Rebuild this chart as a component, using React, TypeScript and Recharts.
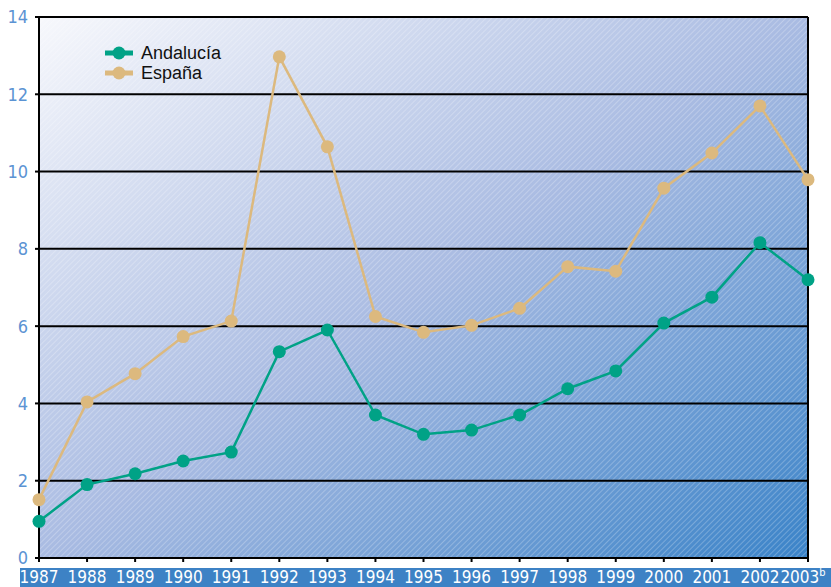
import React from "react";
import { LineChart, Line, XAxis, YAxis, CartesianGrid, Legend, ReferenceLine } from "recharts";

// Values
const years = ["1987", "1988", "1989", "1990", "1991", "1992", "1993", "1994", "1995", "1996", "1997", "1998", "1999", "2000", "2001", "2002", "2003"];
const andalucia = [0.95, 1.9, 2.18, 2.51, 2.74, 5.34, 5.9, 3.7, 3.2, 3.31, 3.7, 4.38, 4.84, 6.08, 6.75, 8.16, 7.2];
const espana = [1.51, 4.04, 4.77, 5.73, 6.13, 12.97, 10.64, 6.25, 5.84, 6.02, 6.46, 7.54, 7.42, 9.57, 10.48, 11.7, 9.79];
const yTicks = [0, 2, 4, 6, 8, 10, 12, 14];

const data = years.map((year, i) => ({ year, "Andalucía": andalucia[i], "España": espana[i] }));

const TEAL = "#00a286";
const TAN = "#dcb97e";
const narrow = '"Liberation Sans Narrow", "DejaVu Sans Condensed", sans-serif';

const YearTick = (props: any) => {
  const { x, y, payload } = props;
  const last = payload.value === years[years.length - 1];
  return (
    <text x={x} y={y} dx={last ? -5 : 0} dy="0.71em" textAnchor="middle" fill="#fff" fontSize={17} fontFamily={narrow}>
      {payload.value}
      {last && <tspan fontSize={11} dy="-0.6em">b</tspan>}
    </text>
  );
};

const LegendBox = () => {
  const items = [
    { name: "Andalucía", color: TEAL },
    { name: "España", color: TAN },
  ];
  return (
    <div style={{ fontFamily: '"Liberation Sans", Arial, sans-serif', fontSize: 18, color: "#111" }}>
      {items.map((it) => (
        <div key={it.name} style={{ display: "flex", alignItems: "center", height: 20 }}>
          <svg width={28} height={14} style={{ marginRight: 8 }}>
            <line x1={0} y1={7} x2={28} y2={7} stroke={it.color} strokeWidth={5} />
            <circle cx={14} cy={7} r={6.5} fill={it.color} />
          </svg>
          <span>{it.name}</span>
        </div>
      ))}
    </div>
  );
};

export default function App() {
  return (
    <div style={{ position: "absolute", left: 0, top: 0, width: 831, height: 587, background: "#fff" }}>
      <div style={{ position: "absolute", left: 20, top: 568, width: 811, height: 19, background: "#3d82c5" }} />
      <LineChart width={831} height={587} data={data} margin={{ top: 17, right: 23, left: 0, bottom: 0 }}>
        <defs>
          <linearGradient id="bgGrad" x1="0" y1="0" x2="1" y2="1">
            <stop offset="0%" stopColor="#f7f8fc" />
            <stop offset="50%" stopColor="#a9bbe2" />
            <stop offset="100%" stopColor="#3a83c8" />
          </linearGradient>
          <pattern id="hatch" width={4} height={4} patternUnits="userSpaceOnUse" patternTransform="rotate(45)">
            <line x1={0} y1={0} x2={0} y2={4} stroke="#ffffff" strokeOpacity={0.4} strokeWidth={1.2} />
          </pattern>
        </defs>
        <CartesianGrid fill="url(#bgGrad)" fillOpacity={1} stroke="none" horizontal={false} vertical={false} />
        <CartesianGrid fill="url(#hatch)" fillOpacity={1} stroke="#000" strokeWidth={2} vertical={false} />
        <XAxis
          dataKey="year"
          axisLine={{ stroke: "#000", strokeWidth: 2 }}
          tickLine={{ stroke: "#000", strokeWidth: 2 }}
          tickSize={4}
          tickMargin={9}
          height={29}
          interval={0}
          tick={<YearTick />}
        />
        <YAxis
          domain={[0, 14]}
          ticks={yTicks}
          width={39}
          axisLine={{ stroke: "#000", strokeWidth: 2 }}
          tickLine={{ stroke: "#000", strokeWidth: 2 }}
          tickSize={4}
          tickMargin={7}
          tick={{ fill: "#5b93d3", fontSize: 18, fontFamily: narrow }}
        />
        <ReferenceLine x={years[years.length - 1]} stroke="#000" strokeWidth={2} />
        <Legend
          content={<LegendBox />}
          layout="vertical"
          verticalAlign="middle"
          align="center"
          wrapperStyle={{ left: 105, top: 43, width: "auto", height: "auto" }}
        />
        <Line
          dataKey="España"
          stroke={TAN}
          strokeWidth={2.5}
          dot={{ r: 6.5, fill: TAN, stroke: "none" }}
          activeDot={false}
          isAnimationActive={false}
        />
        <Line
          dataKey="Andalucía"
          stroke={TEAL}
          strokeWidth={2.5}
          dot={{ r: 6.5, fill: TEAL, stroke: "none" }}
          activeDot={false}
          isAnimationActive={false}
        />
      </LineChart>
    </div>
  );
}
